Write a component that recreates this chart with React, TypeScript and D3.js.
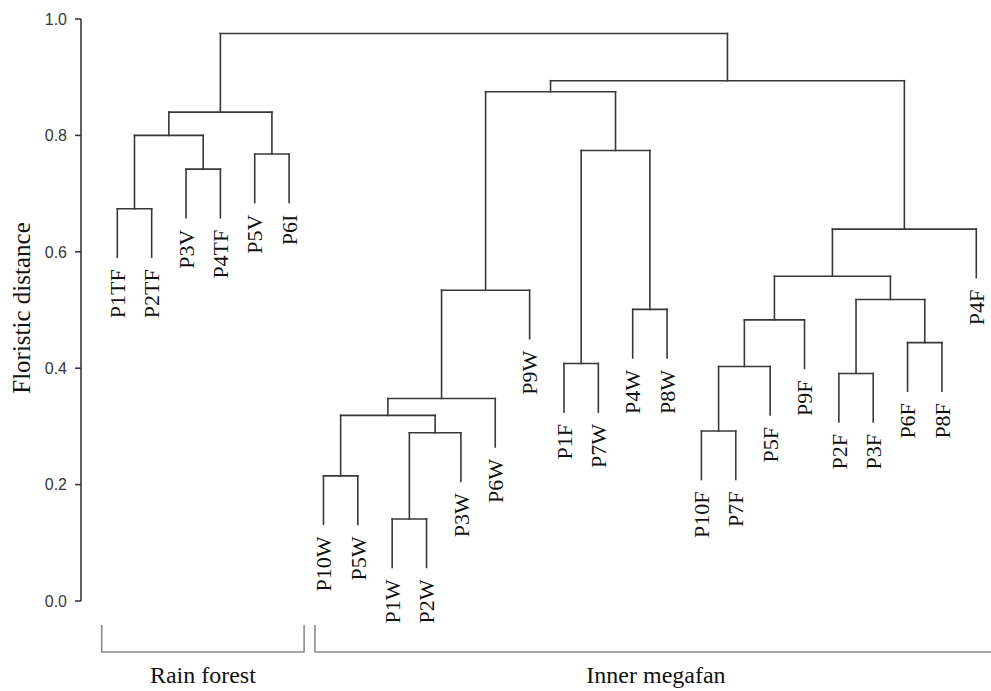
import React from "react";
import * as d3 from "d3";

// leaf order along the bottom
const leafLabels = [
  "P1TF", "P2TF", "P3V", "P4TF", "P5V", "P6I",
  "P10W", "P5W", "P1W", "P2W", "P3W", "P6W", "P9W", "P1F", "P7W", "P4W", "P8W",
  "P10F", "P7F", "P5F", "P9F", "P2F", "P3F", "P6F", "P8F", "P4F",
];

// merge steps, like hclust: m1 is the first merge, m25 the root
const mergeLeft = [
  "P1W", "P10W", "m1", "P10F", "m2", "m5", "P2F", "m4", "P1F", "P6F", "m8", "P4W", "m7",
  "m6", "m11", "m15", "P1TF", "P3V", "P5V", "m9", "m17", "m21", "m14", "m23", "m22",
];
const mergeRight = [
  "P2W", "P5W", "P3W", "P7F", "m3", "P6W", "P3F", "P5F", "P7W", "P8F", "P9F", "P8W", "m10",
  "P9W", "m13", "P4F", "P2TF", "P4TF", "P6I", "m12", "m18", "m19", "m20", "m16", "m24",
];
const mergeHeight = [
  0.141, 0.215, 0.289, 0.292, 0.319, 0.348, 0.391, 0.403, 0.408, 0.444, 0.483, 0.501, 0.518,
  0.534, 0.558, 0.639, 0.674, 0.742, 0.768, 0.774, 0.800, 0.840, 0.875, 0.894, 0.975,
];

const yTicks = [0, 0.2, 0.4, 0.6, 0.8, 1.0];

const groupNames = ["Rain forest", "Inner megafan"];
const groupFirst = ["P1TF", "P10W"];
const groupLast = ["P6I", "P4F"];

const W = 991;
const H = 691;
const serif = "'Liberation Serif', 'Times New Roman', serif";
const sans = "'Liberation Sans', Arial, sans-serif";
const ink = "#383838";

type TNode = { name: string; height: number; children?: TNode[] };

function buildTree(): TNode {
  const byName = new Map<string, TNode>();
  leafLabels.forEach((l) => byName.set(l, { name: l, height: 0 }));
  mergeHeight.forEach((h, i) => {
    const id = "m" + (i + 1);
    byName.set(id, {
      name: id,
      height: h,
      children: [byName.get(mergeLeft[i])!, byName.get(mergeRight[i])!],
    });
  });
  return byName.get("m" + mergeHeight.length)!;
}

const App = () => {
  const y = d3.scaleLinear().domain([0, 1]).range([601, 19]);
  const x = d3.scalePoint<string>().domain(leafLabels).range([117.3, 976.3]);

  // R style hang: 10% of the height range
  const hang = 0.1 * (d3.max(mergeHeight)! - d3.min(mergeHeight)!);

  const root = d3.hierarchy<TNode>(buildTree(), (d) => d.children);
  const px = new Map<any, number>();
  root.eachAfter((n) => {
    if (!n.children) px.set(n, x(n.data.name)!);
    else px.set(n, d3.mean(n.children, (c) => px.get(c)!)!);
  });

  const nodes = root.descendants();

  return (
    <svg width={W} height={H} style={{ position: "absolute", left: 0, top: 0, background: "#fff" }}>
      {/* y axis */}
      <g stroke={ink} strokeWidth={1.6} fill="none">
        <line x1={81} x2={81} y1={y(0)} y2={y(1)} />
        {yTicks.map((t) => (
          <line key={t} x1={75} x2={81} y1={y(t)} y2={y(t)} />
        ))}
      </g>
      {yTicks.map((t) => (
        <text
          key={"l" + t}
          x={67}
          y={y(t)}
          dy="0.36em"
          textAnchor="end"
          fontFamily={sans}
          fontSize={16}
          fill={ink}
        >
          {d3.format(".1f")(t)}
        </text>
      ))}
      <text
        transform={`translate(30,308) rotate(-90)`}
        textAnchor="middle"
        fontFamily={serif}
        fontSize={25}
        fill="#111"
      >
        Floristic distance
      </text>

      {/* dendrogram */}
      <g stroke={ink} strokeWidth={1.6} fill="none" strokeLinecap="square">
        {nodes
          .filter((n) => n.children)
          .map((n) => {
            const xs = n.children!.map((c) => px.get(c)!);
            return (
              <line
                key={"h" + n.data.name}
                x1={d3.min(xs)}
                x2={d3.max(xs)}
                y1={y(n.data.height)}
                y2={y(n.data.height)}
              />
            );
          })}
        {nodes
          .filter((n) => n.parent)
          .map((n) => {
            const top = n.parent!.data.height;
            const bottom = n.children ? n.data.height : top - hang;
            return (
              <line
                key={"v" + n.data.name}
                x1={px.get(n)}
                x2={px.get(n)}
                y1={y(top)}
                y2={y(bottom)}
              />
            );
          })}
      </g>
      {root.leaves().map((n) => (
        <text
          key={"t" + n.data.name}
          transform={`translate(${px.get(n)},${y(n.parent!.data.height - hang) + 12}) rotate(-90)`}
          dy="0.35em"
          textAnchor="end"
          fontFamily={serif}
          fontSize={22}
          fill="#111"
        >
          {n.data.name}
        </text>
      ))}

      {/* group brackets */}
      {groupNames.map((g, i) => {
        const x0 = x(groupFirst[i])! - (i === 0 ? 15.6 : 8.5);
        const x1 = x(groupLast[i])! + (i === 0 ? 15 : 30);
        return (
          <g key={g}>
            <path
              d={`M${x0},625V652H${x1}V625`}
              fill="none"
              stroke="#8c8c8c"
              strokeWidth={1.6}
            />
            <text
              x={i === 0 ? (x0 + x1) / 2 : 656}
              y={683}
              textAnchor="middle"
              fontFamily={serif}
              fontSize={24}
              fill="#111"
            >
              {g}
            </text>
          </g>
        );
      })}
    </svg>
  );
};

export default App;
